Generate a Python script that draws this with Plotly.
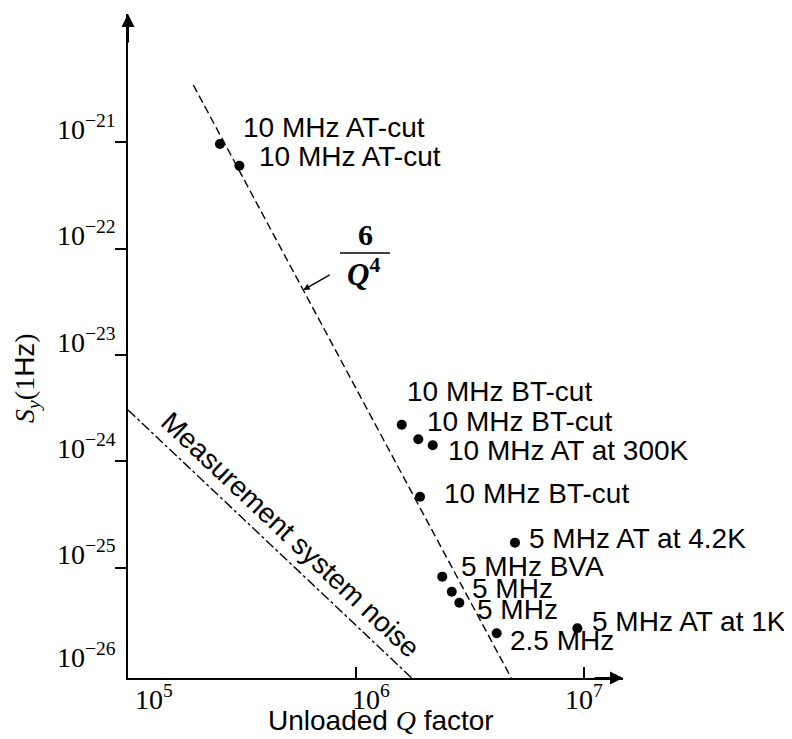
import re
import numpy as np
import plotly.graph_objects as go

# ---------------- data ----------------
q_values = [2.53e5, 3.08e5, 1.587e6, 1.876e6, 2.17e6, 1.909e6,
            4.98e6, 2.39e6, 2.63e6, 2.84e6, 4.14e6, 9.35e6]
sy_values = [9.57e-22, 5.99e-22, 2.21e-24, 1.62e-24, 1.42e-24, 4.67e-25,
             1.73e-25, 8.29e-26, 5.99e-26, 4.72e-26, 2.44e-26, 2.72e-26]
point_labels = ["10 MHz AT-cut", "10 MHz AT-cut", "10 MHz BT-cut", "10 MHz BT-cut",
                "10 MHz AT at 300K", "10 MHz BT-cut", "5 MHz AT at 4.2K", "5 MHz BVA",
                "5 MHz", "5 MHz", "2.5 MHz", "5 MHz AT at 1K"]

# 6/Q^4 trend line (end points)
fit_q = [1.934e5, 4.797e6]
fit_sy = [3.43e-21, 9.27e-27]

# measurement system noise floor
noise_q = [1.0e5, 1.755e6]
noise_sy = [3.05e-24, 9.27e-27]

x_tick_values = [1e5, 1e6, 1e7]
x_tick_labels = ["10<sup>5</sup>", "10<sup>6</sup>", "10<sup>7</sup>"]
y_tick_values = [1e-21, 1e-22, 1e-23, 1e-24, 1e-25, 1e-26]
y_tick_labels = ["10<sup>−21</sup>", "10<sup>−22</sup>", "10<sup>−23</sup>",
                 "10<sup>−24</sup>", "10<sup>−25</sup>", "10<sup>−26</sup>"]

# ---------------- layout helpers (label placement, pixels) ----------------
label_dx = [21, 18, 3, 7, 13, 22, 12, 17, 18, 16, 11, 13]
label_dy = [17, 9, 33, 18, -5, 3, 4, 10, 3, -7, -7, 7]
x_label_shift = [5, -6, -21]
y_label_shift = [15, 15, 15, 15, 15, 19]

SANS = "Liberation Sans"
SERIF = "Liberation Serif"
FS = 28


def mathify(s):
    return re.sub(r"([0-9][0-9.]*)",
                  r"<span style=\"font-family:'Liberation Serif'\">\1</span>", s)


fig = go.Figure()

fig.add_trace(go.Scatter(
    x=fit_q, y=fit_sy, mode="lines",
    line=dict(color="black", width=1.4, dash="8px,4px"),
    hoverinfo="skip"))

fig.add_trace(go.Scatter(
    x=noise_q, y=noise_sy, mode="lines",
    line=dict(color="black", width=1.4, dash="10px,3px,3px,3px"),
    hoverinfo="skip"))

fig.add_trace(go.Scatter(
    x=q_values, y=sy_values, mode="markers",
    marker=dict(color="black", size=10, line=dict(width=0)),
    hoverinfo="skip"))

annotations = []

# point labels
for q, s, txt, dx, dy in zip(q_values, sy_values, point_labels, label_dx, label_dy):
    annotations.append(dict(
        x=np.log10(q), y=np.log10(s), xref="x", yref="y",
        text=mathify(txt), showarrow=False, xanchor="left", yanchor="middle",
        xshift=dx, yshift=dy, font=dict(family=SANS, size=FS, color="black")))

# tick labels
for v, t, sh in zip(x_tick_values, x_tick_labels, x_label_shift):
    annotations.append(dict(
        x=np.log10(v), y=0, xref="x", yref="paper", text=t, showarrow=False,
        xanchor="left", yanchor="top", xshift=sh, yshift=0,
        font=dict(family=SERIF, size=FS, color="black")))
for v, t, sh in zip(y_tick_values, y_tick_labels, y_label_shift):
    annotations.append(dict(
        x=0, y=np.log10(v), xref="paper", yref="y", text=t, showarrow=False,
        xanchor="right", yanchor="middle", xshift=-10, yshift=sh,
        font=dict(family=SERIF, size=FS, color="black")))

# axis arrows
annotations.append(dict(x=0, y=1, xref="paper", yref="paper", ax=0, ay=30,
                        showarrow=True, arrowhead=2, arrowsize=1.3, arrowwidth=2,
                        arrowcolor="black", text=""))
annotations.append(dict(x=1, y=0, xref="paper", yref="paper", ax=-30, ay=0,
                        showarrow=True, arrowhead=2, arrowsize=1.3, arrowwidth=2,
                        arrowcolor="black", text=""))

# axis titles
annotations.append(dict(
    x=-0.204, y=0.452, xref="paper", yref="paper", textangle=-90,
    text=("<span style=\"font-family:'Liberation Serif'\"><i>S</i><sub><i>y</i></sub>(1</span>"
          "Hz<span style=\"font-family:'Liberation Serif'\">)</span>"),
    showarrow=False, xanchor="center", yanchor="middle",
    font=dict(family=SANS, size=FS, color="black")))
annotations.append(dict(
    x=0.511, y=-0.064, xref="paper", yref="paper",
    text="Unloaded <span style=\"font-family:'Liberation Serif'\"><i>Q</i></span> factor",
    showarrow=False, xanchor="center", yanchor="middle",
    font=dict(family=SANS, size=FS, color="black")))

# noise label
annotations.append(dict(
    x=0.327, y=0.2154, xref="paper", yref="paper", textangle=43.3,
    text="Measurement system noise", showarrow=False,
    xanchor="center", yanchor="middle",
    font=dict(family=SANS, size=FS, color="black")))

# 6/Q^4 fraction
annotations.append(dict(x=0.4802, y=0.6672, xref="paper", yref="paper",
                        text="<b>6</b>", showarrow=False, xanchor="center", yanchor="middle",
                        font=dict(family=SERIF, size=30, color="black")))
annotations.append(dict(x=0.4765, y=0.61, xref="paper", yref="paper",
                        text="<b><i>Q</i><sup>4</sup></b>", showarrow=False,
                        xanchor="center", yanchor="middle",
                        font=dict(family=SERIF, size=31, color="black")))
annotations.append(dict(x=0.3541, y=0.5843, xref="paper", yref="paper",
                        ax=28, ay=-16, showarrow=True, arrowhead=2, arrowsize=1,
                        arrowwidth=1.3, arrowcolor="black", text=""))

shapes = [dict(type="line", xref="paper", yref="paper",
               x0=0.4283, x1=0.5293, y0=0.6401, y1=0.6401,
               line=dict(color="black", width=1.5))]

# the page places the figure 8px from the top-left corner
fig.update_layout(
    width=784, height=731,
    margin=dict(l=120, r=169, t=6, b=61, pad=0),
    paper_bgcolor="white", plot_bgcolor="white",
    showlegend=False,
    annotations=annotations, shapes=shapes,
    xaxis=dict(type="log", range=[5, 7.171], showline=True, linecolor="black",
               linewidth=2, ticks="inside", ticklen=11, tickwidth=1.5,
               tickcolor="black", tickvals=[1e6, 1e7], showticklabels=False,
               showgrid=False, zeroline=False, automargin=False),
    yaxis=dict(type="log", range=[-26.033, -19.798], showline=True, linecolor="black",
               linewidth=2, ticks="outside", ticklen=11, tickwidth=1.5,
               tickcolor="black", tickvals=y_tick_values[:5], showticklabels=False,
               showgrid=False, zeroline=False, automargin=False),
)

fig.write_html("out.html")
